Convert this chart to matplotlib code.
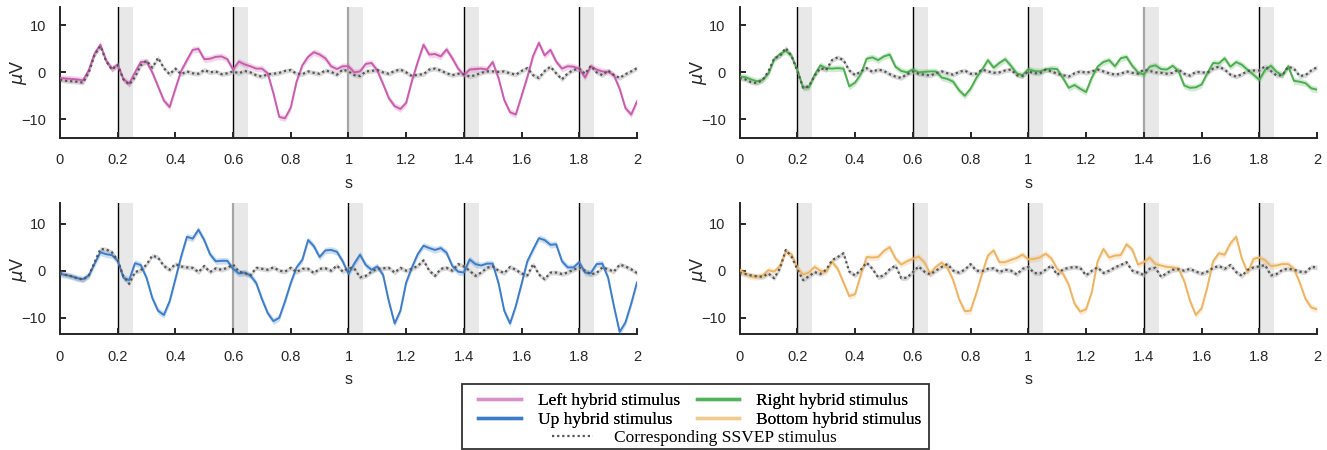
import numpy as np
import matplotlib
matplotlib.use('Agg')
import matplotlib.pyplot as plt
from matplotlib.lines import Line2D
from matplotlib.patches import Rectangle
from matplotlib.ticker import FormatStrFormatter

plt.rcParams['font.family'] = ['Liberation Sans', 'DejaVu Sans']

# time axis (s), 20 ms steps
t = np.round(np.arange(0, 2.0001, 0.02), 2)

# grand-average ERP (uV)
left_hybrid = [-1.2, -1.3, -1.4, -1.5, -1.7, 0.5, 4.0, 5.9, 2.5, 0.8,
               1.6, -1.5, -2.4, 0.0, 2.2, 2.3, 0.0, -3.0, -6.0, -7.4,
               -3.5, 0.3, 2.6, 4.8, 5.0, 2.8, 2.9, 3.3, 3.4, 2.8,
               0.6, 2.3, 1.7, 1.3, 0.8, 0.8, -0.2, -4.5, -9.5, -9.8,
               -7.5, -2.0, 1.5, 3.3, 4.3, 3.8, 3.0, 1.3, 0.7, 1.3,
               1.3, 0.0, 0.2, 1.8, 2.0, 0.4, -2.5, -5.5, -7.2, -7.8,
               -6.5, -1.8, 2.2, 5.9, 3.8, 3.9, 3.4, 4.9, 3.0, 0.8,
               -0.6, 0.6, 0.7, 0.8, 0.6, 2.2, -1.2, -5.9, -8.5, -9.0,
               -5.0, -1.0, 3.5, 6.3, 3.6, 4.8, 2.3, 0.8, 1.3, 1.2,
               0.8, -1.1, 1.3, 0.6, 0.2, 0.1, -0.6, -3.5, -7.6, -9.0,
               -6.2]
left_ssvep = [-1.6, -1.8, -1.9, -2.0, -2.2, 0.0, 3.8, 5.6, 2.4, 0.6,
              1.6, -1.5, -2.6, -1.0, 1.5, 2.5, 1.0, 3.1, 0.9, -0.4,
              0.8, -0.4, 0.2, -0.2, -0.3, 0.5, 0.0, 0.2, -0.4, -0.2,
              0.2, -0.2, 0.3, 0.0, -0.6, -0.9, -0.4, -0.3, -0.1, 0.3,
              0.5, -0.3, -0.4, 0.2, -0.1, -0.3, 0.4, 0.1, -0.5, 0.6,
              0.2, -0.6, -0.8, 0.2, 0.3, 0.5, 0.0, -0.3, 0.3, 0.6,
              0.0, -0.8, -0.5, -0.4, 0.6, 0.8, 0.4, -0.2, -0.6, -0.3,
              -0.4, -0.9, -0.6, -0.1, 0.2, 0.2, 0.1, 0.2, -0.2, -0.5,
              0.3, 0.9, -0.6, -1.2, 0.3, 1.2, -0.2, -1.5, -0.2, 0.5,
              0.8, -0.3, 1.4, 0.0, -0.6, 0.4, -0.6, -1.2, -0.4, 0.2,
              0.9]

right_hybrid = [-0.9, -1.0, -1.5, -1.9, -1.6, -0.3, 2.8, 3.9, 4.6, 3.5,
                0.5, -3.2, -3.2, -0.5, 1.5, 0.9, 0.8, 0.9, 0.8, -3.0,
                -2.2, -0.4, 2.9, 3.2, 2.6, 3.4, 3.8, 1.2, 0.3, 0.0,
                0.6, 0.0, 0.1, 0.2, 0.2, -1.1, -1.4, -2.0, -3.8, -5.0,
                -3.5, -1.2, 0.6, 2.6, 1.0, 2.0, 2.8, 1.4, -0.2, -0.6,
                0.7, 0.3, 0.2, 0.6, 0.8, 0.7, -1.2, -3.3, -2.7, -3.5,
                -4.2, -1.1, 1.2, 2.2, 2.6, 1.3, 3.0, 3.3, 1.4, 0.0,
                -0.5, 1.2, 1.5, 0.7, 0.6, 1.4, 0.3, -2.8, -3.3, -3.2,
                -2.6, -0.2, 2.0, 1.9, 3.0, 1.2, 2.2, 1.6, 0.5, -0.5,
                -1.6, 0.5, 1.4, 0.1, -0.6, 1.3, -1.8, -2.0, -2.3, -3.4,
                -3.7]
right_ssvep = [-1.2, -1.5, -2.1, -2.3, -1.6, 0.2, 3.0, 3.5, 5.2, 3.5,
               0.3, -3.3, -3.0, -0.7, 0.9, 0.5, 2.6, 3.2, 2.6, 0.4,
               -0.6, 0.2, 0.9, 0.1, 0.6, 0.3, -0.4, -0.9, -1.2, -0.4,
               0.2, -0.3, -0.5, -0.7, -0.2, 0.2, -0.2, -0.5, 0.1, 0.4,
               -0.3, -0.3, 0.6, 0.2, -0.1, 0.0, 0.4, 0.6, -0.6, -0.8,
               0.2, -0.2, -0.2, 0.6, 0.2, -0.3, -0.6, -0.9, -0.2, 0.2,
               -0.1, 0.2, 0.6, 0.2, -0.2, -0.5, -0.3, 0.2, -0.1, -0.3,
               0.6, 0.3, 0.0, -0.1, -0.3, -0.1, 0.6, -0.3, -0.7, 0.1,
               0.0, -0.1, 0.8, 1.2, 0.6, -0.5, -0.9, -0.4, 0.3, 0.4,
               0.4, 1.3, 0.3, -0.7, -0.6, 1.2, 0.8, -0.8, -0.6, 0.4,
               1.1]

up_hybrid = [-0.7, -0.9, -1.2, -1.6, -1.8, -1.0, 1.5, 3.9, 3.5, 3.3,
             2.1, -1.5, -2.0, 1.6, 1.2, -1.5, -5.8, -8.5, -9.4, -6.5,
             -1.8, 3.0, 7.2, 6.8, 8.7, 6.5, 3.5, 2.0, 2.1, 2.1,
             0.4, -0.6, -0.4, -1.0, -2.6, -6.0, -9.0, -10.7, -10.0, -6.5,
             -2.6, 0.7, 2.3, 6.5, 5.2, 2.9, 4.3, 4.4, 4.0, 2.0,
             -0.7, 1.5, 3.4, 1.2, 0.2, 0.9, -0.9, -6.5, -11.2, -8.5,
             -2.5, 0.7, 3.5, 5.3, 4.8, 4.4, 4.8, 3.8, 1.0, -0.2,
             -0.4, 2.4, 1.4, 1.1, 1.5, 1.5, -2.6, -8.5, -11.2, -7.5,
             -2.8, 2.0, 4.5, 6.9, 6.5, 5.5, 5.6, 2.0, 0.7, 0.7,
             1.8, -0.4, -0.5, 1.4, 1.5, -1.5, -7.5, -13.0, -11.0, -7.0,
             -2.5]
up_ssvep = [-0.5, -0.9, -1.2, -1.6, -1.9, -1.0, 1.8, 4.6, 4.5, 3.9,
            2.2, -1.2, -2.8, -0.3, 0.1, 1.3, 3.2, 2.8, 1.0, 0.2,
            1.4, 0.9, 0.7, 0.6, -0.3, 1.0, -0.3, 0.5, 0.2, 0.6,
            1.3, -0.2, -0.5, -1.0, 0.6, 0.4, 0.2, 0.7, 0.0, -0.2,
            0.6, -0.3, 0.4, 0.4, -0.5, 0.4, 0.5, 0.0, 1.1, -0.2,
            0.6, 0.5, -1.4, -1.1, -0.2, 0.4, 0.5, 0.6, -0.4, 0.6,
            0.0, 0.4, 1.0, 2.2, 0.0, -1.1, 0.4, 0.6, 0.0, 1.4,
            0.9, 0.0, -1.1, -0.4, 0.6, 0.9, 0.0, -0.5, 0.8, 0.2,
            -0.6, -1.0, 1.4, -0.8, -1.8, -0.4, -0.4, -0.7, -0.4, 0.2,
            0.7, 0.0, -0.8, -0.5, 0.7, 0.3, -0.2, 1.3, 0.9, 0.3,
            -0.5]

bottom_hybrid = [0.2, -0.7, -1.2, -1.3, -1.0, 0.1, -0.2, 1.0, 4.0, 3.5,
                 0.7, -0.8, -0.4, 0.8, 0.0, -0.3, 1.9, 0.4, -2.5, -5.4,
                 -5.0, -0.9, 2.9, 2.8, 2.9, 4.2, 5.0, 2.6, 1.3, 2.0,
                 2.5, 3.0, 1.8, -0.6, 0.8, 1.7, 0.6, -2.0, -6.0, -8.6,
                 -8.5, -4.8, -0.6, 3.2, 4.3, 1.8, 1.8, 2.3, 2.7, 3.4,
                 2.4, 2.5, 2.8, 3.6, 2.6, 0.4, -0.6, -3.0, -7.0, -8.7,
                 -8.2, -4.5, 2.0, 4.6, 2.8, 3.2, 3.3, 5.6, 4.5, 1.3,
                 1.8, 2.8, 1.4, 1.1, 0.8, 0.7, 0.5, -2.2, -6.4, -9.4,
                 -8.0, -3.5, 2.0, 3.7, 3.4, 5.8, 7.2, 2.5, -0.4, 2.5,
                 2.8, 2.2, 1.0, 1.1, 1.4, 1.4, 0.4, -2.5, -6.0, -7.8,
                 -8.2]
bottom_ssvep = [-0.5, -0.7, -1.0, -1.2, -1.3, -0.6, -1.6, 0.5, 4.4, 3.0,
                0.3, -2.0, -1.2, -0.3, -0.7, 0.2, 2.2, 2.9, 3.7, -0.2,
                -1.0, 0.2, 1.7, 0.4, -1.4, -1.0, 0.3, 1.1, -1.6, -1.5,
                -0.3, 0.9, -0.2, -0.8, 0.0, 0.8, 1.4, 0.0, -0.4, 0.2,
                1.4, 0.0, -0.1, 0.4, 0.5, -0.3, 0.2, 0.0, -0.8, 0.4,
                0.8, -0.5, -0.6, 0.2, 1.1, -0.9, 0.3, 0.6, 0.8, 0.6,
                -1.0, 0.0, 0.7, -0.5, 0.0, 0.7, 1.2, 1.8, 0.0, -0.4,
                -0.9, 0.4, 0.6, -1.3, -0.5, 0.2, 0.3, 0.0, 0.4, -0.2,
                -0.6, -0.2, 0.6, 1.0, 0.4, 1.2, -0.3, -1.1, 0.2, 0.7,
                0.9, 1.2, -1.0, -0.7, 0.2, 0.4, 0.2, -0.2, -0.3, 0.8,
                0.7]

hybrid_sem = 0.7
ssvep_sem = 0.5

# stimulus onsets (s) and flash duration
onsets = [0.2, 0.6, 1.0, 1.4, 1.8]
flash_len = 0.052

labels = ['Left hybrid stimulus', 'Right hybrid stimulus',
          'Up hybrid stimulus', 'Bottom hybrid stimulus']
line_colors = ['#C95CAD', '#4CAE4F', '#3C7CC8', '#EDB463']
legend_colors = ['#D98FC8', '#52B257', '#3C7CC6', '#F0CB8E']

panels = [
    (left_hybrid, left_ssvep, 1.0, (0.0452, 0.6933, 0.4348, 0.2918), (-14, 14)),
    (right_hybrid, right_ssvep, 1.4, (0.5573, 0.6933, 0.4352, 0.2918), (-14, 14)),
    (up_hybrid, up_ssvep, 0.6, (0.0452, 0.2571, 0.4348, 0.2911), (-13.5, 14.3)),
    (bottom_hybrid, bottom_ssvep, None, (0.5573, 0.2571, 0.4352, 0.2911), (-13.5, 14.3)),
]

fig = plt.figure(figsize=(13.27, 4.5), dpi=100)

for i, (hyb, ssv, gray_onset, pos, ylim) in enumerate(panels):
    ax = fig.add_axes(pos)
    hyb = np.array(hyb)
    ssv = np.array(ssv)
    for on in onsets:
        ax.axvspan(on, on + flash_len, color='#E8E8E8', lw=0, zorder=0)
        col = '#A6A6A6' if gray_onset == on else 'black'
        lw = 1.6 if gray_onset == on else 1.0
        ax.axvline(on, color=col, lw=lw, zorder=1)
    ax.fill_between(t, ssv - ssvep_sem, ssv + ssvep_sem, color='#BDBDBD',
                    alpha=0.6, lw=0, zorder=2)
    ax.plot(t, ssv, color='#555555', lw=1.6, ls=(0, (1, 1.3)), zorder=4)
    ax.fill_between(t, hyb - hybrid_sem, hyb + hybrid_sem, color=line_colors[i],
                    alpha=0.25, lw=0, zorder=3)
    ax.plot(t, hyb, color=line_colors[i], lw=1.4, zorder=3)

    ax.set_xlim(0, 2.0)
    ax.set_ylim(*ylim)
    ax.set_xticks(np.arange(0, 2.01, 0.2))
    ax.set_yticks([-10, 0, 10])
    ax.xaxis.set_major_formatter(FormatStrFormatter('%g'))
    for sp in ['top', 'right']:
        ax.spines[sp].set_visible(False)
    for sp in ['left', 'bottom']:
        ax.spines[sp].set_linewidth(1.4)
        ax.spines[sp].set_color('#262626')
    ax.tick_params(direction='in', length=4.5, width=1.4, color='#262626',
                   labelsize=10.5, labelcolor='#262626')
    ax.tick_params(axis='x', pad=11)
    ax.tick_params(axis='y', pad=10)
    ax.set_xlabel('s', fontsize=11.5, color='#262626', labelpad=6)
    ax.set_ylabel(r'$\mu$V', fontsize=13, color='#262626')
    ax.yaxis.set_label_coords(-0.053, 0.5)

# legend
leg_font = {'family': 'Liberation Serif', 'size': 12.5}
order = [0, 2, 1, 3]
handles = [Line2D([], [], color=legend_colors[k], lw=2.4) for k in order]
leg1 = fig.legend(handles, [labels[k] for k in order], ncol=2, frameon=False,
                  loc='upper left', bbox_to_anchor=(478 / 1327, 1 - 393 / 450),
                  borderpad=0, borderaxespad=0, handlelength=2.45,
                  handletextpad=1.0, columnspacing=0.95, labelspacing=0.16,
                  prop=leg_font)
ssvep_handle = Line2D([], [], color='#555555', lw=1.6, ls=(0, (1, 1.3)))
leg2 = fig.legend([ssvep_handle], ['Corresponding SSVEP stimulus'], frameon=False,
                  loc='upper left', bbox_to_anchor=(552 / 1327, 1 - 430 / 450),
                  borderpad=0, borderaxespad=0, handlelength=2.35,
                  handletextpad=1.2, prop=leg_font)
fig.add_artist(leg1)
fig.add_artist(Rectangle((462 / 1327, 1 - 449 / 450), 467 / 1327, 65 / 450,
                         transform=fig.transFigure, fill=False,
                         edgecolor='#333333', lw=1.3))

fig.savefig('out.png', dpi=100)
